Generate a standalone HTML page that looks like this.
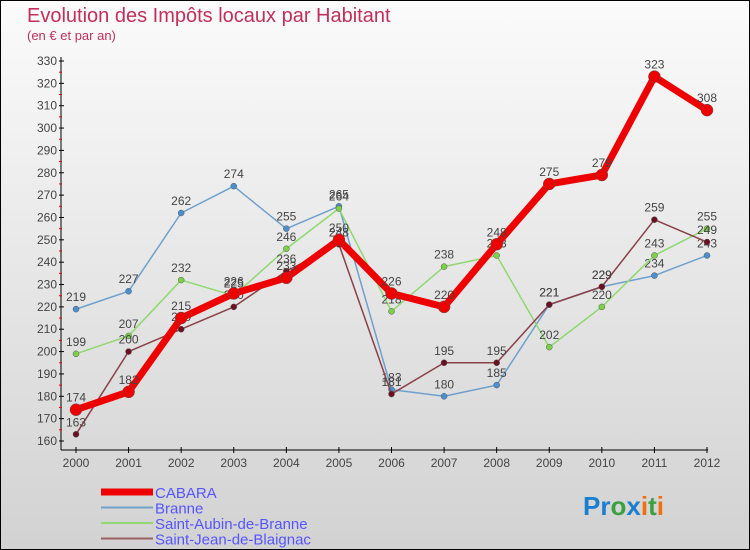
<!DOCTYPE html>
<html><head><meta charset="utf-8"><style>
body{margin:0}
#c{width:748px;height:548px;border:1px solid #000;background:linear-gradient(#fbfbfb,#d2d2d2);position:relative;font-family:"Liberation Sans",sans-serif}
</style></head><body>
<div id="c">
<svg id="s" width="748" height="548" style="position:absolute;left:0;top:0">
<text x="26" y="21" font-size="20" fill="#c0305a">Evolution des Impôts locaux par Habitant</text>
<text x="26" y="39" font-size="13" fill="#c0305a">(en € et par an)</text>
</svg>
</div>
<script>
const years=[2000,2001,2002,2003,2004,2005,2006,2007,2008,2009,2010,2011,2012];
const yTicks=[160,170,180,190,200,210,220,230,240,250,260,270,280,290,300,310,320,330];
const cabara=[174,182,215,226,233,250,226,220,248,275,279,323,308];
const branne=[219,227,262,274,255,265,183,180,185,221,229,234,243];
const aubin=[199,207,232,225,246,264,218,238,243,202,220,243,255];
const jean=[163,200,210,220,236,248,181,195,195,221,229,259,249];
const s=document.getElementById('s'),NS='http://www.w3.org/2000/svg';
const X=i=>75+i*(631/12), Y=v=>440-(v-160)*(380/170);
function mk(t,a,p){const e=document.createElementNS(NS,t);for(const k in a)e.setAttribute(k,a[k]);(p||s).appendChild(e);return e;}
let ax=mk('line',{x1:60,y1:56,x2:60,y2:449,stroke:'#000'});


let bx=mk('line',{x1:60,y1:449,x2:707,y2:449,stroke:'#000'});


yTicks.forEach(v=>{mk('line',{x1:58,x2:63,y1:Y(v),y2:Y(v),stroke:'#000'});
 if(v<330)mk('line',{x1:58,x2:61,y1:Y(v+5),y2:Y(v+5),stroke:'#e00'});
 const t=mk('text',{x:56,y:Y(v)+4,'font-size':12,fill:'#444','text-anchor':'end'});t.textContent=v;
 
 });
years.forEach((y,i)=>{mk('line',{x1:X(i),x2:X(i),y1:446,y2:452,stroke:'#000'});
 const t=mk('text',{x:X(i),y:466,'font-size':12,fill:'#444','text-anchor':'middle'});t.textContent=y;
 
 });
function series(d,c,w,r,dot,name){
 const g=mk('g',{});
 
 
 mk('polyline',{points:d.map((v,i)=>X(i)+','+Y(v)).join(' '),fill:'none',stroke:c,'stroke-width':w,'stroke-linejoin':'round'},g);
 d.forEach((v,i)=>{mk('circle',{cx:X(i),cy:Y(v),r:r,fill:dot,stroke:'#555','stroke-width':0.5},g);
  const t=mk('text',{x:X(i),y:Y(v)-8,'font-size':12,fill:'#444','text-anchor':'middle'},g);t.textContent=v;
  
  });
}
series(branne,'#6fa0cc',1.5,3,'#4a90d0','series-branne');
series(aubin,'#90d870',1.5,3,'#7cd04a','series-saint-aubin');
series(jean,'#8a4048',1.5,3,'#6a1020','series-saint-jean');
series(cabara,'#ee0000',7,6,'#ee0000','series-cabara');
const leg=[['CABARA','#ee0000',7],['Branne','#6fa0cc',2],['Saint-Aubin-de-Branne','#90d870',2],['Saint-Jean-de-Blaignac','#9a6060',2]];
leg.forEach((l,i)=>{const y=491+i*15.5;const g=mk('g',{});
 
 
 mk('line',{x1:100,x2:152,y1:y,y2:y,stroke:l[1],'stroke-width':l[2]},g);
 const t=mk('text',{x:154,y:y+6,'font-size':15,fill:'#5555ff'},g);t.textContent=l[0];});
const lg=mk('text',{x:582,y:514,'font-size':26,'font-weight':'bold'});


[['Pr','#1a7fd0'],['o','#3aa040'],['x','#1a7fd0'],['i','#f07010'],['t','#3aa040'],['i','#f07010']].forEach(p=>{const ts=mk('tspan',{fill:p[1]},lg);ts.textContent=p[0];});
</script>
</body></html>
